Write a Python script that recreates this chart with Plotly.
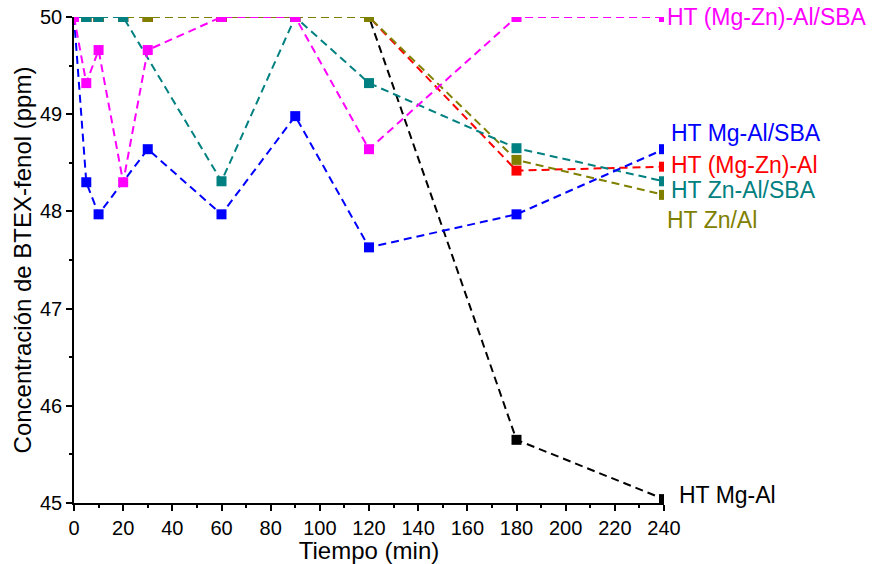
import plotly.graph_objects as go

# Data (time in min, concentration in ppm)
x_full = [0, 5, 10, 20, 30, 60, 90, 120, 180, 240]

mgal_y = [50, 50, 50, 50, 50, 50, 50, 50, 45.65, 45.04]          # HT Mg-Al
mgznal_y = [50, 50, 50, 50, 50, 50, 50, 50, 48.42, 48.46]        # HT (Mg-Zn)-Al
znal_y = [50, 50, 50, 50, 50, 50, 50, 50, 48.53, 48.17]          # HT Zn/Al

znalsba_x = [0, 5, 10, 20, 60, 90, 120, 180, 240]
znalsba_y = [50, 50, 50, 50, 48.31, 50, 49.32, 48.65, 48.31]     # HT Zn-Al/SBA

mgalsba_x = [0, 5, 10, 30, 60, 90, 120, 180, 240]
mgalsba_y = [50, 48.30, 47.97, 48.64, 47.97, 48.98, 47.63, 47.97, 48.64]  # HT Mg-Al/SBA

mgznalsba_x = [0, 5, 10, 20, 30, 60, 90, 120, 180, 240]
mgznalsba_y = [50, 49.32, 49.66, 48.30, 49.66, 50, 50, 48.64, 50, 50]  # HT (Mg-Zn)-Al/SBA

x_ticks = list(range(0, 241, 20))
y_ticks = [45, 46, 47, 48, 49, 50]

series = [
    ("HT Mg-Al", x_full, mgal_y, "#000000"),
    ("HT (Mg-Zn)-Al", x_full, mgznal_y, "#FF0000"),
    ("HT Zn/Al", x_full, znal_y, "#808000"),
    ("HT Zn-Al/SBA", znalsba_x, znalsba_y, "#008080"),
    ("HT Mg-Al/SBA", mgalsba_x, mgalsba_y, "#0000FF"),
    ("HT (Mg-Zn)-Al/SBA", mgznalsba_x, mgznalsba_y, "#FF00FF"),
]

FONT = "Liberation Sans"

fig = go.Figure()
for name, xs, ys, col in series:
    fig.add_trace(go.Scatter(
        x=xs, y=ys, name=name, mode="lines+markers",
        line=dict(color=col, width=2, dash="8px,5px"),
        marker=dict(symbol="square", size=10, color=col),
        cliponaxis=True,
    ))

labels = [
    ("HT (Mg-Zn)-Al/SBA", 50.0, "#FF00FF", 1),
    ("HT Mg-Al/SBA", 48.81, "#0000FF", 5),
    ("HT (Mg-Zn)-Al", 48.48, "#FF0000", 5),
    ("HT Zn-Al/SBA", 48.22, "#008080", 5),
    ("HT Zn/Al", 47.91, "#808000", 1),
    ("HT Mg-Al", 45.08, "#000000", 13),
]
for txt, yv, col, xs in labels:
    fig.add_annotation(x=240, y=yv, xref="x", yref="y", text=txt, showarrow=False,
                       xanchor="left", yanchor="middle", xshift=xs,
                       font=dict(family=FONT, size=23, color=col))

axis_common = dict(
    showgrid=False, zeroline=False, showline=True, linecolor="black", linewidth=1.5,
    ticks="outside", ticklen=6, tickwidth=1.5, tickcolor="black",
    tickfont=dict(family=FONT, size=20, color="black"),
    mirror=False, automargin=False,
)

fig.update_layout(
    width=876, height=564,
    margin=dict(l=74, r=212, t=17, b=61),
    plot_bgcolor="white", paper_bgcolor="white",
    showlegend=False,
    xaxis=dict(range=[0, 240], tickvals=x_ticks,
               title=dict(text="Tiempo (min)", font=dict(family=FONT, size=24, color="black"), standoff=0),
               minor=dict(dtick=10, ticks="outside", ticklen=3, tickwidth=1.5, tickcolor="black"),
               **axis_common),
    yaxis=dict(range=[45, 50], tickvals=y_ticks,
               title=dict(text="Concentración de BTEX-fenol (ppm)", font=dict(family=FONT, size=24, color="black"), standoff=2),
               minor=dict(dtick=0.5, ticks="outside", ticklen=3, tickwidth=1.5, tickcolor="black"),
               **axis_common),
)

fig.write_html("out.html")
